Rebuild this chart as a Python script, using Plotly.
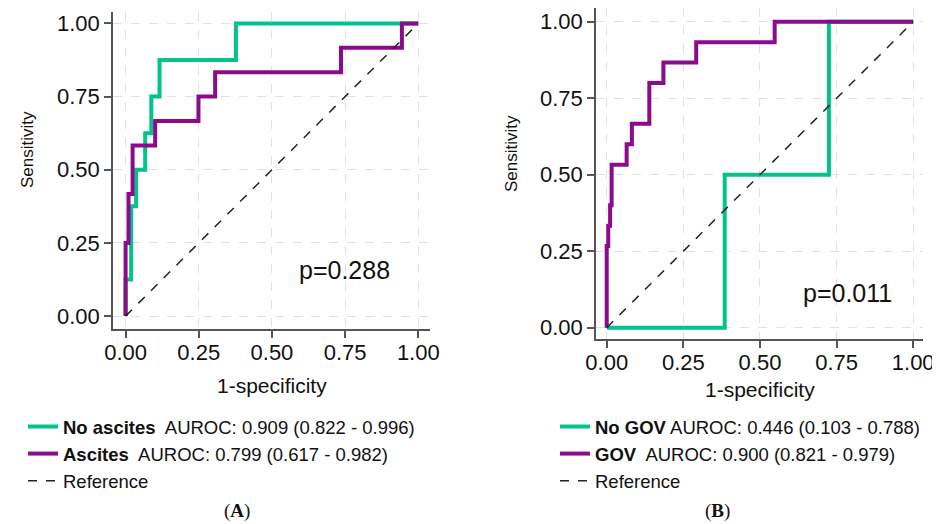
import plotly.graph_objects as go

# ---- data ----
ticks = [0, 0.25, 0.5, 0.75, 1.0]
tick_text = ["0.00", "0.25", "0.50", "0.75", "1.00"]

# Panel A
a_noasc_fpr = [0, 0, 0.019, 0.036, 0.067, 0.088, 0.116, 0.377, 1.0]
a_noasc_tpr = [0, 0.125, 0.375, 0.5, 0.625, 0.75, 0.875, 1.0, 1.0]
a_asc_fpr = [0, 0, 0.010, 0.024, 0.101, 0.249, 0.306, 0.736, 0.944, 1.0]
a_asc_tpr = [0, 0.25, 0.417, 0.583, 0.667, 0.75, 0.833, 0.917, 1.0, 1.0]
a_labels = ["<b>No ascites</b>  AUROC: 0.909 (0.822 - 0.996)",
            "<b>Ascites</b>  AUROC: 0.799 (0.617 - 0.982)",
            "Reference"]
a_p = "p=0.288"

# Panel B
b_nogov_fpr = [0, 0.385, 0.725, 1.0]
b_nogov_tpr = [0, 0.5, 1.0, 1.0]
b_gov_fpr = [0, 0, 0.005, 0.011, 0.016, 0.065, 0.082, 0.139, 0.185, 0.292, 0.548, 1.0]
b_gov_tpr = [0, 0.267, 0.333, 0.4, 0.533, 0.6, 0.667, 0.8, 0.867, 0.933, 1.0, 1.0]
b_labels = ["<b>No GOV</b> AUROC: 0.446 (0.103 - 0.788)",
            "<b>GOV</b>  AUROC: 0.900 (0.821 - 0.979)",
            "Reference"]
b_p = "p=0.011"

ref_line = [0, 1]

GREEN = "#00C48C"
PURPLE = "#8C0A8C"
FONT = "Liberation Sans, Arial, sans-serif"
SERIF = "Liberation Serif, Times New Roman, serif"
W, H = 940, 524
OFF = 8  # page body margin offset

fig = go.Figure()

def add_panel(xa, ya, legend, f1, t1, f2, t2, labels):
    fig.add_trace(go.Scatter(x=f1, y=t1, mode="lines", line=dict(color=GREEN, width=4, shape="hv"),
                             name=labels[0], xaxis=xa, yaxis=ya, legend=legend))
    fig.add_trace(go.Scatter(x=f2, y=t2, mode="lines", line=dict(color=PURPLE, width=4, shape="hv"),
                             name=labels[1], xaxis=xa, yaxis=ya, legend=legend))
    fig.add_trace(go.Scatter(x=ref_line, y=ref_line, mode="lines",
                             line=dict(color="#222222", width=1.5, dash="dash"),
                             name=labels[2], xaxis=xa, yaxis=ya, legend=legend))

add_panel("x", "y", "legend", a_noasc_fpr, a_noasc_tpr, a_asc_fpr, a_asc_tpr, a_labels)
add_panel("x2", "y2", "legend2", b_nogov_fpr, b_nogov_tpr, b_gov_fpr, b_gov_tpr, b_labels)

axis_common = dict(
    tickvals=ticks, ticktext=tick_text, ticks="outside", ticklen=7, tickwidth=1.5,
    tickcolor="#555555", showline=True, linecolor="#555555", linewidth=1.5,
    showgrid=True, gridcolor="#e2e2e2", gridwidth=1.2, griddash="dash",
    zeroline=False, tickfont=dict(family=FONT, size=22, color="#111111"),
    fixedrange=True, automargin=False, ticklabeloverflow="allow",
)

def px_x(p):
    return min(1.0, max(0.0, (p - OFF) / W))

def px_y(p):
    return min(1.0, max(0.0, 1 - (p - OFF) / H))

fig.update_layout(
    width=W, height=H, margin=dict(l=0, r=0, t=0, b=0, autoexpand=False),
    autosize=False,
    paper_bgcolor="white", plot_bgcolor="white",
    font=dict(family=FONT, color="#111111"),
    xaxis=dict(domain=[px_x(113), px_x(430)], range=[-0.043, 1.040], anchor="y",
               ticklabelstandoff=-4, **axis_common),
    yaxis=dict(domain=[px_y(329), px_y(12)], range=[-0.044, 1.039], anchor="x", **axis_common),
    xaxis2=dict(domain=[px_x(596), px_x(923)], range=[-0.035, 1.032], anchor="y2",
                ticklabelstandoff=-4, **axis_common),
    yaxis2=dict(domain=[px_y(339), px_y(8)], range=[-0.037, 1.045], anchor="x2", **axis_common),
    legend=dict(x=px_x(23), y=px_y(408), xanchor="left", yanchor="top",
                font=dict(family=FONT, size=18.5, color="#111111"),
                bgcolor="rgba(0,0,0,0)", tracegroupgap=0, itemwidth=30),
    legend2=dict(x=px_x(555), y=px_y(408), xanchor="left", yanchor="top",
                 font=dict(family=FONT, size=18.5, color="#111111"),
                 bgcolor="rgba(0,0,0,0)", tracegroupgap=0, itemwidth=30),
    showlegend=True,
)

def pann(text, x, y, size, family=FONT, angle=0):
    return dict(text=text, x=px_x(x), y=px_y(y), xref="paper", yref="paper",
                xanchor="center", yanchor="middle", showarrow=False, textangle=angle,
                font=dict(family=family, size=size, color="#111111"))

ann = [
    pann("1-specificity", 272, 385, 21),
    pann("1-specificity", 760, 389, 21),
    pann("Sensitivity", 27, 150, 17, angle=-90),
    pann("Sensitivity", 512, 154, 17, angle=-90),
    pann("(<b>A</b>)", 237, 511, 19, family=SERIF),
    pann("(<b>B</b>)", 717, 511, 19, family=SERIF),
    dict(text=a_p, x=0.748, y=0.157, xref="x", yref="y", showarrow=False,
         xanchor="center", yanchor="middle", font=dict(family=FONT, size=25, color="#111111")),
    dict(text=b_p, x=0.785, y=0.114, xref="x2", yref="y2", showarrow=False,
         xanchor="center", yanchor="middle", font=dict(family=FONT, size=25, color="#111111")),
]
fig.update_layout(annotations=ann)

fig.write_html("out.html")
